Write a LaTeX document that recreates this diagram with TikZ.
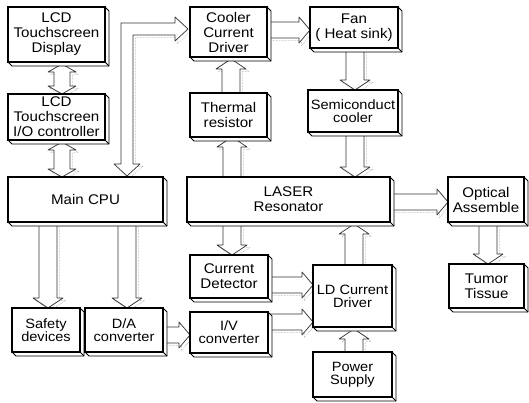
\documentclass[tikz,border=0pt]{standalone}
\usepackage{fontspec}
\setmainfont[FakeStretch=1.08]{Liberation Sans}
\tikzset{
  box/.style={draw=black, line width=1.3pt, fill=white, inner sep=0pt, align=center,
              font=\fontsize{14}{15}\selectfont},
  tight/.style={font=\fontsize{13.5}{13}\selectfont},
  extr/.style={draw=black, line width=0.8pt, fill=white, line join=round},
  arrowline/.style={draw=black!80, line width=0.7pt, fill=white, line join=round},
  ashadow/.style={draw=black!40, line width=0.5pt, fill=white, densely dotted},
}
% box: [opts]{name}{x1}{y1}{x2}{y2}{text}
\newcommand\MyBox[7][]{%
  \pgfmathsetmacro\bxcx{(#3+#5)/2}\pgfmathsetmacro\bxcy{(#4+#6)/2}%
  \pgfmathsetmacro\bxw{#5-#3}\pgfmathsetmacro\bxh{#6-#4}%
  \filldraw[extr] (#5,#4) -- (#5+4,#4+4) -- (#5+4,#6+4) -- (#3+4,#6+4) -- (#3,#6) -- (#5,#6) -- cycle;
  \draw[extr] (#5,#6) -- (#5+4,#6+4);
  \node[box, minimum width=\bxw pt, minimum height=\bxh pt, #1] (#2) at (\bxcx,\bxcy) {#7};
}
% down arrow: xc, ytail, ytip
\newcommand\ArrD[3]{%
  \filldraw[ashadow, shift={(2.5,2.5)}] (#1-9,#2) -- (#1-9,#3-10) -- (#1-15,#3-10) -- (#1,#3) -- (#1+15,#3-10) -- (#1+9,#3-10) -- (#1+9,#2);
  \filldraw[arrowline] (#1-9,#2) -- (#1-9,#3-10) -- (#1-15,#3-10) -- (#1,#3) -- (#1+15,#3-10) -- (#1+9,#3-10) -- (#1+9,#2);
}
% up arrow: xc, ytail, ytip
\newcommand\ArrU[3]{%
  \filldraw[ashadow, shift={(2.5,2.5)}] (#1-9,#2) -- (#1-9,#3+10) -- (#1-15,#3+10) -- (#1,#3) -- (#1+15,#3+10) -- (#1+9,#3+10) -- (#1+9,#2);
  \filldraw[arrowline] (#1-9,#2) -- (#1-9,#3+10) -- (#1-15,#3+10) -- (#1,#3) -- (#1+15,#3+10) -- (#1+9,#3+10) -- (#1+9,#2);
}
% right arrow: yc, xtail, xtip
\newcommand\ArrR[3]{%
  \filldraw[ashadow, shift={(2.5,2.5)}] (#2,#1-8) -- (#3-11,#1-8) -- (#3-11,#1-13) -- (#3,#1) -- (#3-11,#1+13) -- (#3-11,#1+8) -- (#2,#1+8);
  \filldraw[arrowline] (#2,#1-8) -- (#3-11,#1-8) -- (#3-11,#1-13) -- (#3,#1) -- (#3-11,#1+13) -- (#3-11,#1+8) -- (#2,#1+8);
}
% double vertical arrow: xc, ytop, ybottom
\newcommand\ArrDV[3]{%
  \filldraw[ashadow, shift={(2.5,2.5)}] (#1-8,#2+8) -- (#1-14,#2+8) -- (#1,#2) -- (#1+14,#2+8) -- (#1+8,#2+8) -- (#1+8,#3-8) -- (#1+14,#3-8) -- (#1,#3) -- (#1-14,#3-8) -- (#1-8,#3-8) -- cycle;
  \filldraw[arrowline] (#1-8,#2+8) -- (#1-14,#2+8) -- (#1,#2) -- (#1+14,#2+8) -- (#1+8,#2+8) -- (#1+8,#3-8) -- (#1+14,#3-8) -- (#1,#3) -- (#1-14,#3-8) -- (#1-8,#3-8) -- cycle;
}
\begin{document}
\begin{tikzpicture}[x=1pt, y=-1pt]
\useasboundingbox (0,0) rectangle (529,403);

% ---- block arrows (drawn first, boxes cover their ends)
\ArrDV{62}{64}{94}
\ArrDV{62}{142}{177}
% bent double arrow Main CPU <-> Cooler Current Driver
\filldraw[ashadow, shift={(2.5,2.5)}] (121,164) -- (114,164) -- (127,176) -- (140,164) -- (133,164) -- (133,35) -- (175,35) -- (175,41) -- (188,29) -- (175,17) -- (175,23) -- (121,23) -- cycle;
\filldraw[arrowline] (121,164) -- (114,164) -- (127,176) -- (140,164) -- (133,164) -- (133,35) -- (175,35) -- (175,41) -- (188,29) -- (175,17) -- (175,23) -- (121,23) -- cycle;
\ArrR{30}{269}{310}
\ArrD{355}{50}{90}
\ArrD{355}{134}{177}
\ArrU{231}{93}{59}
\ArrU{232}{177}{137}
\ArrD{232}{224}{255}
\ArrR{285}{270}{313}
\ArrR{322}{270}{313}
\ArrU{354}{352}{329}
\ArrU{354}{265}{224}
\ArrR{202}{392}{448}
\ArrD{488}{224}{264}
\ArrD{48}{224}{308}
\ArrD{127}{224}{308}
\ArrR{335}{165}{190}

% ---- boxes
\MyBox{disp}{8}{7}{105}{62}{LCD\\Touchscreen\\Display}
\MyBox{io}{8}{94}{105}{140}{LCD\\Touchscreen\\I/O controller}
\MyBox{cpu}{8}{177}{163}{222}{Main CPU}
\MyBox{cool}{190}{7}{267}{57}{Cooler\\Current\\Driver}
\MyBox{therm}{190}{93}{267}{137}{Thermal\\resistor}
\MyBox{fan}{310}{7}{398}{48}{Fan\\( Heat sink)}
\MyBox[tight]{semi}{308}{90}{398}{132}{Semiconduct\\cooler}
\MyBox{laser}{187}{177}{390}{222}{LASER\\Resonator}
\MyBox{opt}{448}{177}{524}{222}{Optical\\Assemble}
\MyBox{tumor}{449}{264}{524}{308}{Tumor\\Tissue}
\MyBox{curdet}{190}{255}{268}{298}{Current\\Detector}
\MyBox[tight]{ld}{313}{265}{392}{327}{LD Current\\Driver}
\MyBox[tight]{iv}{190}{312}{268}{353}{I/V\\converter}
\MyBox[tight]{ps}{313}{352}{392}{397}{Power\\Supply}
\MyBox[tight]{safe}{12}{308}{80}{352}{Safety\\devices}
\MyBox[tight]{da}{85}{308}{163}{352}{D/A\\converter}
\end{tikzpicture}
\end{document}
